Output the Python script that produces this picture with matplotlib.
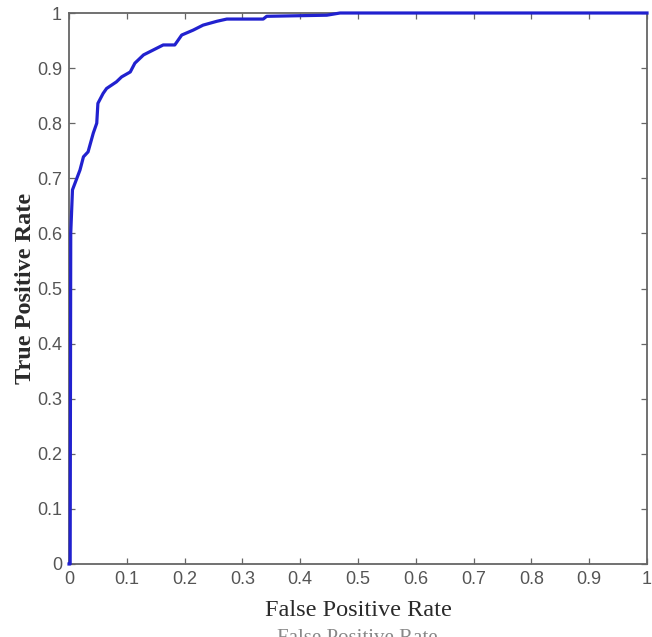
import matplotlib
matplotlib.use("Agg")
import matplotlib.pyplot as plt

# ROC curve points
fpr = [0.0, 0.002, 0.003, 0.006, 0.019, 0.025, 0.033, 0.042, 0.048, 0.050, 0.059,
       0.065, 0.082, 0.091, 0.106, 0.114, 0.129, 0.146, 0.163, 0.183, 0.195,
       0.215, 0.232, 0.256, 0.273, 0.336, 0.342, 0.446, 0.469, 1.0]
tpr = [0.0, 0.0, 0.60, 0.679, 0.715, 0.739, 0.748, 0.782, 0.800, 0.836, 0.854,
       0.863, 0.875, 0.884, 0.893, 0.909, 0.924, 0.933, 0.942, 0.942, 0.960,
       0.969, 0.978, 0.985, 0.989, 0.989, 0.994, 0.996, 1.0, 1.0]

xticks = [0, 0.1, 0.2, 0.3, 0.4, 0.5, 0.6, 0.7, 0.8, 0.9, 1]
xticklabels = ["0", "0.1", "0.2", "0.3", "0.4", "0.5", "0.6", "0.7", "0.8", "0.9", "1"]
yticks = xticks
yticklabels = xticklabels

W, H = 652, 637
fig = plt.figure(figsize=(W / 100, H / 100), dpi=100)
ax = fig.add_axes([69 / W, 1 - 564 / H, (647 - 69) / W, (564 - 13) / H])

ax.plot(fpr, tpr, color="#2121cf", lw=2.3, solid_joinstyle="round", clip_on=False, zorder=3)

ax.set_xlim(0, 1)
ax.set_ylim(0, 1)
ax.set_xticks(xticks)
ax.set_xticklabels(xticklabels)
ax.set_yticks(yticks)
ax.set_yticklabels(yticklabels)

for lab in ax.get_xticklabels() + ax.get_yticklabels():
    lab.set_fontfamily("Liberation Sans")
    lab.set_fontsize(13)
    lab.set_color("#555555")

ax.tick_params(direction="in", length=4, width=0.9, color="#666666",
               top=True, right=True, pad=5)
for s in ax.spines.values():
    s.set_color("#666666")
    s.set_linewidth(1.3)

ax.set_xlabel("False Positive Rate", fontfamily="Liberation Serif", fontsize=17.5,
              color="#2a2a2a", labelpad=9)
ax.set_ylabel("True Positive Rate", fontfamily="Liberation Serif", fontsize=17.5,
              fontweight="bold", color="#2a2a2a", labelpad=1)

# partially visible duplicate label at the bottom edge (scan artifact)
fig.text(357 / W, 1 - 629 / H, "False Positive Rate", ha="center", va="top",
         fontfamily="Liberation Serif", fontsize=15, color="#888888")

fig.savefig("out.png", dpi=100)
